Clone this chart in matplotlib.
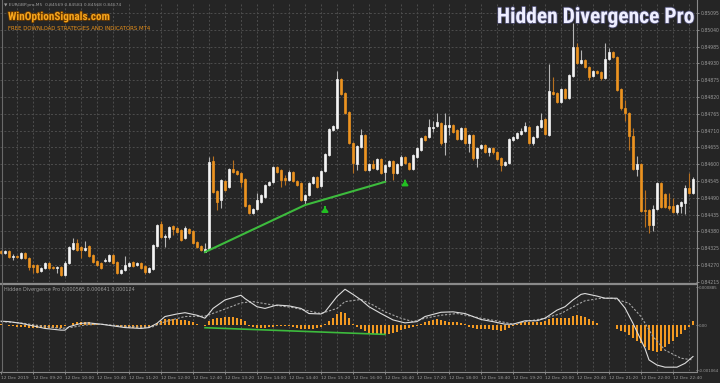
import matplotlib
matplotlib.use("Agg")
import matplotlib.pyplot as plt
import matplotlib.patheffects as pe
from matplotlib import font_manager as fm
from matplotlib.lines import Line2D
import numpy as np

# ---- price data, EURGBP M5, in points (1e-5) ----
opens = [84316, 84309, 84316, 84296, 84299, 84293, 84309, 84293, 84270, 84270,
         84250, 84260, 84276, 84263, 84260, 84263, 84237, 84276, 84322, 84342,
         84329, 84319, 84332, 84302, 84283, 84276, 84283, 84283, 84302, 84279,
         84243, 84253, 84266, 84279, 84270, 84276, 84266, 84247, 84256, 84332,
         84404, 84361, 84361, 84397, 84391, 84384, 84358, 84388, 84381, 84345,
         84332, 84312, 84322, 84610, 84512, 84483, 84545, 84525, 84584, 84578,
         84571, 84551, 84466, 84440, 84453, 84476, 84493, 84532, 84542, 84591,
         84581, 84555, 84548, 84574, 84545, 84538, 84483, 84499, 84538, 84558,
         84529, 84578, 84630, 84712, 84718, 84879, 84833, 84771, 84669, 84601,
         84656, 84696, 84581, 84601, 84584, 84617, 84574, 84594, 84610, 84571,
         84597, 84624, 84604, 84584, 84624, 84646, 84692, 84689, 84718, 84725,
         84735, 84673, 84722, 84728, 84712, 84682, 84718, 84669, 84696, 84620,
         84653, 84663, 84640, 84653, 84640, 84620, 84597, 84604, 84679, 84686,
         84699, 84709, 84722, 84669, 84689, 84722, 84748, 84696, 84836, 84833,
         84803, 84846, 84817, 84888, 84983, 84931, 84941, 84918, 84888, 84905,
         84902, 84882, 84944, 84967, 84951, 84846, 84784, 84767, 84692, 84584,
         84601, 84450, 84450, 84401, 84453, 84538, 84502, 84463, 84463, 84443,
         84463, 84473, 84522, 84506]
highs = [84319, 84319, 84319, 84306, 84302, 84312, 84312, 84296, 84273, 84273,
         84263, 84279, 84279, 84266, 84266, 84266, 84283, 84332, 84358, 84355,
         84332, 84348, 84335, 84306, 84286, 84279, 84293, 84306, 84306, 84283,
         84256, 84299, 84279, 84283, 84279, 84279, 84270, 84263, 84338, 84404,
         84414, 84371, 84397, 84401, 84394, 84388, 84397, 84391, 84384, 84348,
         84335, 84342, 84624, 84627, 84515, 84551, 84548, 84587, 84614, 84581,
         84574, 84555, 84470, 84457, 84506, 84502, 84535, 84545, 84594, 84594,
         84584, 84564, 84581, 84578, 84548, 84542, 84502, 84542, 84561, 84561,
         84581, 84637, 84718, 84728, 84905, 84882, 84836, 84774, 84673, 84663,
         84715, 84699, 84604, 84614, 84620, 84620, 84601, 84614, 84614, 84604,
         84630, 84627, 84607, 84633, 84656, 84689, 84696, 84748, 84741, 84767,
         84738, 84767, 84758, 84732, 84715, 84722, 84722, 84699, 84699, 84656,
         84666, 84666, 84656, 84656, 84643, 84624, 84610, 84686, 84692, 84705,
         84718, 84738, 84725, 84692, 84728, 84767, 84751, 84928, 84885, 84836,
         84849, 84849, 84895, 85062, 84997, 84974, 84944, 84921, 84908, 84908,
         84905, 84997, 84980, 84970, 84954, 84849, 84810, 84771, 84718, 84627,
         84604, 84515, 84453, 84466, 84542, 84542, 84506, 84506, 84489, 84470,
         84480, 84532, 84571, 84558]
lows = [84306, 84307, 84293, 84286, 84293, 84289, 84289, 84253, 84243, 84243,
        84247, 84256, 84256, 84256, 84243, 84234, 84234, 84273, 84319, 84316,
        84293, 84316, 84296, 84276, 84266, 84256, 84279, 84279, 84273, 84240,
        84240, 84250, 84263, 84263, 84266, 84256, 84240, 84243, 84253, 84329,
        84358, 84329, 84355, 84368, 84375, 84348, 84355, 84371, 84338, 84325,
        84316, 84311, 84319, 84506, 84450, 84457, 84512, 84522, 84571, 84564,
        84525, 84460, 84437, 84437, 84450, 84473, 84489, 84529, 84538, 84571,
        84525, 84532, 84545, 84542, 84529, 84480, 84470, 84496, 84535, 84522,
        84525, 84574, 84627, 84709, 84715, 84826, 84764, 84666, 84571, 84581,
        84653, 84578, 84578, 84584, 84581, 84568, 84542, 84591, 84548, 84568,
        84594, 84601, 84581, 84581, 84620, 84643, 84676, 84686, 84705, 84722,
        84663, 84630, 84696, 84702, 84679, 84679, 84666, 84640, 84614, 84591,
        84650, 84637, 84627, 84633, 84614, 84578, 84594, 84601, 84676, 84682,
        84696, 84705, 84666, 84663, 84686, 84718, 84696, 84692, 84826, 84800,
        84800, 84813, 84813, 84885, 84928, 84928, 84915, 84876, 84885, 84895,
        84876, 84879, 84941, 84947, 84839, 84777, 84741, 84646, 84581, 84561,
        84443, 84394, 84375, 84381, 84450, 84457, 84457, 84450, 84440, 84437,
        84440, 84437, 84502, 84502]
closes = [84309, 84316, 84296, 84299, 84295, 84309, 84293, 84263, 84263, 84247,
          84260, 84276, 84260, 84260, 84263, 84237, 84276, 84329, 84342, 84319,
          84319, 84325, 84299, 84279, 84270, 84260, 84286, 84302, 84276, 84243,
          84253, 84270, 84276, 84266, 84276, 84260, 84247, 84260, 84335, 84401,
          84361, 84365, 84394, 84388, 84378, 84352, 84391, 84375, 84342, 84329,
          84319, 84322, 84607, 84509, 84476, 84548, 84515, 84584, 84574, 84568,
          84542, 84463, 84440, 84453, 84483, 84499, 84532, 84542, 84591, 84574,
          84548, 84548, 84574, 84545, 84532, 84483, 84499, 84538, 84558, 84525,
          84578, 84633, 84715, 84725, 84879, 84830, 84767, 84669, 84604, 84660,
          84696, 84581, 84601, 84587, 84617, 84571, 84597, 84610, 84571, 84601,
          84624, 84604, 84584, 84630, 84653, 84686, 84679, 84722, 84722, 84738,
          84669, 84728, 84728, 84705, 84682, 84718, 84669, 84696, 84620, 84653,
          84663, 84640, 84653, 84640, 84617, 84597, 84607, 84682, 84689, 84702,
          84709, 84725, 84669, 84689, 84725, 84745, 84699, 84839, 84830, 84803,
          84846, 84817, 84892, 84983, 84931, 84941, 84918, 84885, 84905, 84898,
          84882, 84944, 84967, 84951, 84843, 84784, 84767, 84692, 84584, 84601,
          84447, 84447, 84401, 84453, 84538, 84460, 84460, 84457, 84443, 84466,
          84476, 84522, 84506, 84551]

# ---- indicator: histogram per bar, main line and signal line samples ----
hist = [0.00002, 0.00001, -0.00002, -0.00003, -0.00004, -0.00004, -0.00005, -0.00006, -0.00007, -0.00007,
        -0.00008, -0.00008, -0.00008, -0.00008, -0.00007, -0.00006, -0.00003, 0.00001, 0.00004, 0.00006,
        0.00007, 0.00007, 0.00007, 0.00005, 0.00002, 0.0, -0.00001, 0.0, -0.00001, -0.00003,
        -0.00005, -0.00006, -0.00007, -0.00007, -0.00007, -0.00007, -0.00007, -0.00006, -0.00003, 0.00004,
        0.00010, 0.00013, 0.00014, 0.00014, 0.00013, 0.00012, 0.00011, 0.00009, 0.00007, 0.00003,
        -0.00001, -0.00003, 0.00010, 0.00014, 0.00016, 0.00017, 0.00018, 0.00018, 0.00018, 0.00017,
        0.00014, 0.00010, -0.00003, -0.00005, -0.00006, -0.00007, -0.00006, -0.00005, -0.00004, -0.00003,
        -0.00003, -0.00002, -0.00003, -0.00005, -0.00007, -0.00009, -0.00010, -0.00010, -0.00009, -0.00008,
        -0.00004, 0.00003, 0.00010, 0.00016, 0.00025, 0.00031, 0.00028, 0.00016, 0.00003, -0.00005,
        -0.00010, -0.00015, -0.00019, -0.00021, -0.00022, -0.00022, -0.00022, -0.00020, -0.00018, -0.00016,
        -0.00012, -0.00010, -0.00007, -0.00005, -0.00002, 0.00003, 0.00006, 0.00009, 0.00012, 0.00013,
        0.00011, 0.00009, 0.00008, 0.00007, 0.00006, 0.00004, 0.00002, -0.00004, -0.00008, -0.00010,
        -0.00010, -0.00010, -0.00010, -0.00011, -0.00012, -0.00013, -0.00012, -0.00008, -0.00002, 0.00003,
        0.00006, 0.00007, 0.00007, 0.00006, 0.00007, 0.00008, 0.00010, 0.00015, 0.00017, 0.00017,
        0.00017, 0.00016, 0.00017, 0.00022, 0.00024, 0.00022, 0.00018, 0.00015, 0.00010, 0.00005,
        0.0, 0.0, 0.00001, 0.0, -0.00010, -0.00013, -0.00016, -0.00024, -0.00031, -0.00037,
        -0.00043, -0.00052, -0.00058, -0.00061, -0.00063, -0.00060, -0.00052, -0.00045, -0.00037, -0.00029,
        -0.00020, -0.00012, -0.00004, 0.00010]

main_idx = [0, 2, 5, 8, 11, 15, 16, 17, 20, 22, 25, 28, 31, 35, 37, 39, 41, 44, 46, 49,
            51, 52, 53, 56, 60, 61, 64, 66, 69, 72, 75, 77, 80, 81, 84, 86, 88, 90, 92, 95,
            98, 101, 104, 106, 110, 113, 116, 118, 120, 123, 126, 128, 131, 134, 136, 139, 141, 143, 145, 146,
            149, 151, 154, 156, 158, 161, 162, 164, 166, 169, 171, 173]
main_val = [0.00009, 0.00008, 0.00004, -0.00002, -0.00008, -0.00012, -0.00012, -0.00004, 0.00004, 0.00005,
            0.00002, -0.00002, -0.00006, -0.00008, -0.00006, 0.00004, 0.00020, 0.00026, 0.00029, 0.00023,
            0.00016, 0.00027, 0.00039, 0.00059, 0.00070, 0.00062, 0.00043, 0.00039, 0.00047, 0.00045,
            0.00039, 0.00027, 0.00026, 0.00031, 0.00067, 0.00084, 0.00072, 0.00059, 0.00043, 0.00027,
            0.00012, 0.00005, 0.00008, 0.00020, 0.00030, 0.00031, 0.00027, 0.00020, 0.00013, 0.00008,
            0.00002, 0.00002, 0.00010, 0.00010, 0.00016, 0.00035, 0.00043, 0.00059, 0.00072, 0.00074,
            0.00068, 0.00063, 0.00063, 0.00040, 0.00004, -0.00055, -0.00082, -0.00094, -0.00099, -0.00099,
            -0.00090, -0.00074]

signal_idx = [0, 5, 10, 15, 18, 21, 25, 30, 35, 38, 41, 46, 51, 55, 60, 63, 68, 73, 76, 80,
              84, 86, 90, 93, 96, 100, 103, 106, 110, 114, 118, 120, 125, 128, 131, 136, 140, 143, 146, 150,
              153, 157, 160, 163, 166, 170, 173]
signal_val = [0.00008, 0.00005, -0.00002, -0.00008, -0.00005, 0.0, 0.00002, -0.00002, -0.00005, -0.00004,
              0.00008, 0.00020, 0.00021, 0.00034, 0.00052, 0.00055, 0.00047, 0.00041, 0.00035, 0.00027,
              0.00039, 0.00055, 0.00060, 0.00047, 0.00031, 0.00016, 0.00008, 0.00016, 0.00023, 0.00027,
              0.00020, 0.00016, 0.00008, 0.00002, 0.00008, 0.00016, 0.00027, 0.00043, 0.00057, 0.00063,
              0.00063, 0.00051, 0.00020, -0.00027, -0.00059, -0.00078, -0.00082]

# divergence lines and arrows
div_price_idx = [51, 76, 96]
div_price_val = [84312, 84466, 84542]
div_ind_idx = [51, 96]
div_ind_val = [-0.000063, -0.00022]
arrow_idx = [81, 101]
arrow_price = [84455, 84542]

price_labels = ["0.85095", "0.85040", "0.84985", "0.84930", "0.84875", "0.84820",
                "0.84765", "0.84710", "0.84655", "0.84600", "0.84545", "0.84490",
                "0.84435", "0.84380", "0.84325", "0.84270", "0.84215"]
ind_labels = ["0.000885", "0.00", "-0.001064"]
time_labels = ["12 Dec 2019", "12 Dec 09:20", "12 Dec 10:00", "12 Dec 10:40", "12 Dec 11:20",
               "12 Dec 12:00", "12 Dec 12:40", "12 Dec 13:20", "12 Dec 14:00", "12 Dec 14:40",
               "12 Dec 15:20", "12 Dec 16:00", "12 Dec 16:40", "12 Dec 17:20", "12 Dec 18:00",
               "12 Dec 18:40", "12 Dec 19:20", "12 Dec 20:00", "12 Dec 20:40", "12 Dec 21:20",
               "12 Dec 22:00", "12 Dec 22:40"]

# ---- style ----
W, H = 720, 383
BG = "#252525"
GRID = "#4d4d4d"
TXT = "#9a9a9a"
ORANGE = "#ec9320"
WHITE = "#f4f4f4"
GREEN = "#3dbb3d"


def narrow_bold():
    # look for a narrow / condensed bold face among the installed fonts
    prefs = ["Liberation Sans Narrow", "Roboto Condensed", "DejaVu Sans Condensed",
             "Open Sans Condensed", "Noto Sans Condensed"]
    found = {}
    for f in fm.fontManager.ttflist:
        w = f.weight if isinstance(f.weight, int) else {"bold": 700, "heavy": 800, "black": 900,
                                                         "extra bold": 800, "semibold": 600}.get(str(f.weight).lower(), 400)
        fn = f.fname.lower()
        narrow = ("narrow" in fn or "condensed" in fn or "narrow" in f.name.lower()
                  or "condensed" in f.name.lower() or str(f.stretch) in ("condensed", "semi-condensed"))
        if narrow and w >= 700 and "italic" not in fn and "oblique" not in fn and f.style == "normal":
            key = f.name
            if "dejavu" in fn and "condensed" in fn:
                key = "DejaVu Sans Condensed"
            found.setdefault(key, f.fname)
    for p in prefs:
        if p in found:
            return fm.FontProperties(fname=found[p]), p
    if found:
        k = sorted(found)[0]
        return fm.FontProperties(fname=found[k]), k
    return fm.FontProperties(family="DejaVu Sans", weight="bold"), "DejaVu Sans"


NFONT, NNAME = narrow_bold()
# width per em differs between faces; pick sizes so the banners fill their width
title_size = {"Liberation Sans Narrow": 16, "Roboto Condensed": 15.5,
              "DejaVu Sans Condensed": 13.5}.get(NNAME, 11.5)

o = np.array(opens) / 1e5
h = np.array(highs) / 1e5
l = np.array(lows) / 1e5
c = np.array(closes) / 1e5
x = np.arange(len(o))
up = c >= o

fig = plt.figure(figsize=(W / 100, H / 100), dpi=100)
fig.patch.set_facecolor(BG)


def px_rect(left, top, right, bottom):
    return [left / W, 1 - bottom / H, (right - left) / W, (bottom - top) / H]


ax = fig.add_axes(px_rect(0, 2, 696, 282))
ind = fig.add_axes(px_rect(0, 286, 696, 371))
for a in (ax, ind):
    a.set_facecolor(BG)
    a.set_xlim(-0.25, 173.75)
    for s in a.spines.values():
        s.set_visible(False)
    for gx in range(4, 174, 4):
        a.axvline(gx, color=GRID, lw=0.7, ls=(0, (2, 2)), zorder=0)

# main chart
ax.set_ylim(0.84214, 0.85131)
pticks = [float(s) for s in price_labels]
for py in pticks:
    ax.axhline(py, color=GRID, lw=0.7, ls=(0, (2, 2)), zorder=0)

ax.vlines(x[up], l[up], h[up], color="#b5b5b5", lw=0.8, zorder=2)
ax.vlines(x[~up], l[~up], h[~up], color="#b87020", lw=0.8, zorder=2)
body_lo = np.minimum(o, c)
body_h = np.maximum(np.abs(c - o), 0.00002)
ax.bar(x[up], body_h[up], bottom=body_lo[up], width=0.62, color=WHITE,
       edgecolor=WHITE, lw=0.5, zorder=3)
ax.bar(x[~up], body_h[~up], bottom=body_lo[~up], width=0.62, color=ORANGE,
       edgecolor=ORANGE, lw=0.5, zorder=3)

ax.plot(div_price_idx, np.array(div_price_val) / 1e5, color=GREEN, lw=1.5, zorder=4)
for ai, ap in zip(arrow_idx, arrow_price):
    ax.annotate("", xy=(ai, ap / 1e5 + 0.00005), xytext=(ai, ap / 1e5 - 0.00006),
                arrowprops=dict(arrowstyle="-|>,head_width=0.18,head_length=0.25",
                                color="#22c022", lw=1.4), zorder=5)

ax.yaxis.tick_right()
ax.set_yticks(pticks)
ax.set_yticklabels(price_labels)
ax.set_xticks([])
ax.tick_params(axis="y", colors=TXT, labelsize=3.3, length=2.5, width=0.6, pad=0.8)

# indicator panel
ind.set_ylim(-0.00108, 0.000917)
ind.bar(x, hist, width=0.72, color="#f39a22", lw=0, zorder=2)
ind.plot(signal_idx, signal_val, color="#a5a5a5", lw=0.8, ls=(0, (2, 1.5)), zorder=3)
ind.plot(main_idx, main_val, color="#dcdcdc", lw=0.8, zorder=4)
ind.plot(div_ind_idx, div_ind_val, color=GREEN, lw=1.2, zorder=5)
ind.yaxis.tick_right()
ind.set_yticks([float(s) for s in ind_labels])
ind.set_yticklabels(ind_labels)
ind.set_xticks(range(0, 8 * len(time_labels), 8))
ind.set_xticklabels(time_labels, ha="left")
ind.tick_params(axis="y", colors=TXT, labelsize=2.9, length=1.5, width=0.6, pad=0.5)
ind.tick_params(axis="x", colors=TXT, labelsize=3.2, length=2, width=0.6, pad=1.5)

# frame lines
frame = "#8a8a8a"
fig.add_artist(Line2D([0, 696 / W], [1 - 284 / H] * 2, color=frame, lw=1.6))
fig.add_artist(Line2D([0, 696 / W], [1 - 371.5 / H] * 2, color=frame, lw=0.8))
fig.add_artist(Line2D([696.5 / W] * 2, [1 - 371.5 / H, 1], color=frame, lw=0.8))
fig.add_artist(Line2D([1.5 / W] * 2, [1 - 371.5 / H, 1], color="#6a6a6a", lw=0.8))

# texts
fig.text(4 / W, 1 - 5 / H, "\u25bc EURGBP.pro,M5  0.84569 0.84583 0.84568 0.84574",
         fontsize=3.2, color=TXT, va="center")
fig.text(8 / W, 1 - 17 / H, "WinOptionSignals.com", fontproperties=NFONT,
         fontsize=title_size * 0.52, color="#f8a61c", va="center",
         path_effects=[pe.withStroke(linewidth=1.2, foreground="#6a3a00")])
fig.text(8 / W, 1 - 28.5 / H, "FREE DOWNLOAD STRATEGIES AND INDICATORS MT4", fontsize=3.9,
         color="#e8901a", va="center")
fig.text(695 / W, 1 - 17 / H, "Hidden Divergence Pro", fontproperties=NFONT,
         fontsize=title_size, color="#eeeeff", ha="right", va="center",
         path_effects=[pe.withStroke(linewidth=1.2, foreground="#4c4c70")])
fig.text(4 / W, 1 - 289 / H, "Hidden Divergence Pro 0.000565 0.000641 0.000124",
         fontsize=3.5, color=TXT, va="center")

fig.savefig("out.png", dpi=100, facecolor=BG)
